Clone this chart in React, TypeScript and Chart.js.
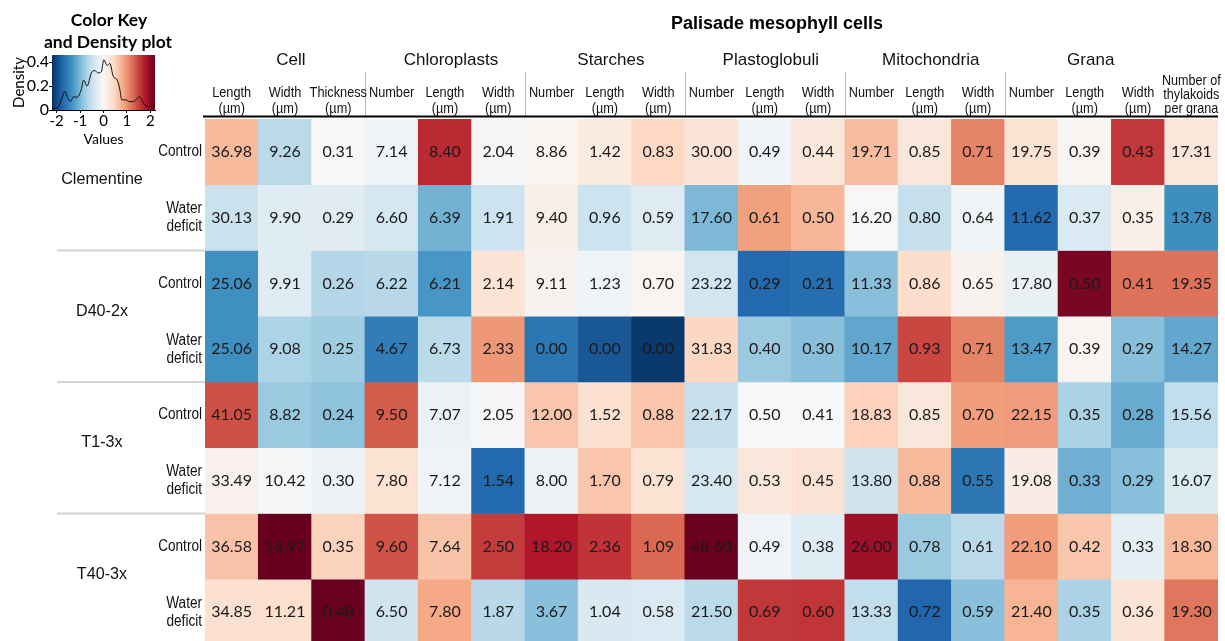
import React, { useEffect, useRef } from "react";
import { Chart, registerables } from "chart.js";

Chart.register(...registerables);

// ---------- DATA ----------
const columnKeys = [
  "Cell Length", "Cell Width", "Cell Thickness",
  "Chloroplasts Number", "Chloroplasts Length", "Chloroplasts Width",
  "Starches Number", "Starches Length", "Starches Width",
  "Plastoglobuli Number", "Plastoglobuli Length", "Plastoglobuli Width",
  "Mitochondria Number", "Mitochondria Length", "Mitochondria Width",
  "Grana Number", "Grana Length", "Grana Width", "Grana Thylakoids",
];

const subHeaders: string[][] = [
  ["Length", "(µm)"], ["Width", "(µm)"], ["Thickness", "(µm)"],
  ["Number"], ["Length", "(µm)"], ["Width", "(µm)"],
  ["Number"], ["Length", "(µm)"], ["Width", "(µm)"],
  ["Number"], ["Length", "(µm)"], ["Width", "(µm)"],
  ["Number"], ["Length", "(µm)"], ["Width", "(µm)"],
  ["Number"], ["Length", "(µm)"], ["Width", "(µm)"], ["Number of", "thylakoids", "per grana"],
];

const groupNames = ["Cell", "Chloroplasts", "Starches", "Plastoglobuli", "Mitochondria", "Grana"];
const groupStarts = [0, 3, 6, 9, 12, 15];
const groupLabelSpans = [3, 3, 3, 3, 3, 3];

const title = "Palisade mesophyll cells";
const genotypes = ["Clementine", "D40-2x", "T1-3x", "T40-3x"];
const treatments = [["Control"], ["Water", "deficit"]];

const clementineControl = [36.98, 9.26, 0.31, 7.14, 8.40, 2.04, 8.86, 1.42, 0.83, 30.00, 0.49, 0.44, 19.71, 0.85, 0.71, 19.75, 0.39, 0.43, 17.31];
const clementineWater = [30.13, 9.90, 0.29, 6.60, 6.39, 1.91, 9.40, 0.96, 0.59, 17.60, 0.61, 0.50, 16.20, 0.80, 0.64, 11.62, 0.37, 0.35, 13.78];
const d40Control = [25.06, 9.91, 0.26, 6.22, 6.21, 2.14, 9.11, 1.23, 0.70, 23.22, 0.29, 0.21, 11.33, 0.86, 0.65, 17.80, 0.50, 0.41, 19.35];
const d40Water = [25.06, 9.08, 0.25, 4.67, 6.73, 2.33, 0.00, 0.00, 0.00, 31.83, 0.40, 0.30, 10.17, 0.93, 0.71, 13.47, 0.39, 0.29, 14.27];
const t1Control = [41.05, 8.82, 0.24, 9.50, 7.07, 2.05, 12.00, 1.52, 0.88, 22.17, 0.50, 0.41, 18.83, 0.85, 0.70, 22.15, 0.35, 0.28, 15.56];
const t1Water = [33.49, 10.42, 0.30, 7.80, 7.12, 1.54, 8.00, 1.70, 0.79, 23.40, 0.53, 0.45, 13.80, 0.88, 0.55, 19.08, 0.33, 0.29, 16.07];
const t40Control = [36.58, 14.97, 0.35, 9.60, 7.64, 2.50, 18.20, 2.36, 1.09, 48.60, 0.49, 0.38, 26.00, 0.78, 0.61, 22.10, 0.42, 0.33, 18.30];
const t40Water = [34.85, 11.21, 0.48, 6.50, 7.80, 1.87, 3.67, 1.04, 0.58, 21.50, 0.69, 0.60, 13.33, 0.72, 0.59, 21.40, 0.35, 0.36, 19.30];

const rowValues = [clementineControl, clementineWater, d40Control, d40Water, t1Control, t1Water, t40Control, t40Water];

// density curve of the colour key
const densityX = [-2.2, -2.05, -1.9, -1.78, -1.64, -1.52, -1.42, -1.28, -1.13, -0.95, -0.85, -0.7, -0.52, -0.37, -0.23, -0.09, 0.01, 0.16, 0.27, 0.42, 0.59, 0.7, 0.78, 0.92, 1.13, 1.28, 1.54, 1.71, 1.93, 2.1, 2.2];
const densityY = [0.01, 0.015, 0.03, 0.1, 0.155, 0.1, 0.07, 0.11, 0.107, 0.17, 0.25, 0.2, 0.31, 0.33, 0.31, 0.32, 0.42, 0.37, 0.39, 0.28, 0.25, 0.17, 0.085, 0.085, 0.07, 0.07, 0.11, 0.056, 0.028, 0.03, 0.05];
const keyTicksX = [-2, -1, 0, 1, 2];
const keyTicksY = [0, 0.2, 0.4];
const keyMin = -2.2;
const keyMax = 2.2;

// ---------- COLOUR ----------
const RDBU = ["#053061", "#2166ac", "#4393c3", "#92c5de", "#d1e5f0", "#f7f7f7", "#fddbc7", "#f4a582", "#d6604d", "#b2182b", "#67001f"];

function hexToRgb(h: string) {
  const n = parseInt(h.slice(1), 16);
  return [(n >> 16) & 255, (n >> 8) & 255, n & 255];
}
function colorAt(t: number) {
  const tt = Math.max(0, Math.min(1, t)) * (RDBU.length - 1);
  const i = Math.min(RDBU.length - 2, Math.floor(tt));
  const f = tt - i;
  const a = hexToRgb(RDBU[i]);
  const b = hexToRgb(RDBU[i + 1]);
  const c = a.map((v, k) => Math.round(v + (b[k] - v) * f));
  return `rgb(${c[0]},${c[1]},${c[2]})`;
}

function columnZ(): number[][] {
  const nR = rowValues.length;
  const nC = columnKeys.length;
  const z = rowValues.map(() => new Array(nC).fill(0));
  for (let c = 0; c < nC; c++) {
    const col = rowValues.map((r) => r[c]);
    const m = col.reduce((s, v) => s + v, 0) / nR;
    const sd = Math.sqrt(col.reduce((s, v) => s + (v - m) * (v - m), 0) / (nR - 1));
    for (let r = 0; r < nR; r++) z[r][c] = sd > 0 ? (col[r] - m) / sd : 0;
  }
  return z;
}

const ARIAL = "'Liberation Sans', Arial, sans-serif";
const CAL = "Lato, 'Open Sans', sans-serif";

function txt(ctx: CanvasRenderingContext2D, s: string, x: number, y: number, font: string, sx = 1, align: CanvasTextAlign = "center", color = "#111") {
  ctx.save();
  ctx.font = font;
  ctx.fillStyle = color;
  ctx.textAlign = align;
  ctx.textBaseline = "middle";
  ctx.translate(x, y);
  ctx.scale(sx, 1);
  ctx.fillText(s, 0, 0);
  ctx.restore();
}

export default function App() {
  const mainRef = useRef<HTMLCanvasElement>(null);
  const keyRef = useRef<HTMLCanvasElement>(null);

  useEffect(() => {
    document.body.style.margin = "0";
    document.body.style.overflow = "hidden";
    const z = columnZ();

    const labelsPlugin = {
      id: "heatLabels",
      afterDraw(chart: any) {
        const ctx: CanvasRenderingContext2D = chart.ctx;
        const xs = chart.scales.x;
        const ys = chart.scales.y;
        const area = chart.chartArea;
        const colW = xs.getPixelForValue(1) - xs.getPixelForValue(0);
        const colLeft = (i: number) => xs.getPixelForValue(i) - colW / 2;

        // key titles
        txt(ctx, "Color Key", 109, 20, `bold 17.5px ${CAL}`, 1, "center", "#000");
        txt(ctx, "and Density plot", 108, 42, `bold 17.5px ${CAL}`, 1, "center", "#000");

        // main title
        txt(ctx, title, 777, 24, `bold 18px ${ARIAL}`, 1, "center", "#000");

        // group labels + separators
        groupNames.forEach((g, i) => {
          const l = colLeft(groupStarts[i]);
          const r = colLeft(groupStarts[i] + groupLabelSpans[i]);
          txt(ctx, g, (l + r) / 2 + 6, 60, `17px ${ARIAL}`, 1, "center", "#111");
          if (i > 0) {
            ctx.save();
            ctx.strokeStyle = "#b8b8b8";
            ctx.lineWidth = 1;
            ctx.beginPath();
            ctx.moveTo(Math.round(l) + 0.5, 72);
            ctx.lineTo(Math.round(l) + 0.5, 116);
            ctx.stroke();
            ctx.restore();
          }
        });

        // sub headers
        subHeaders.forEach((lines, c) => {
          const x = xs.getPixelForValue(c);
          if (lines.length === 3) {
            const ys3 = [81, 95, 109];
            lines.forEach((s, k) => txt(ctx, s, x, ys3[k], `14px ${ARIAL}`, 0.9, "center", "#111"));
          } else {
            const ys2 = [93, 109];
            lines.forEach((s, k) => txt(ctx, s, x, ys2[k], `15px ${ARIAL}`, 0.85, "center", "#111"));
          }
        });

        // header underline
        ctx.save();
        ctx.strokeStyle = "#000";
        ctx.lineWidth = 2;
        ctx.beginPath();
        ctx.moveTo(area.left - 2, 116.5);
        ctx.lineTo(area.right, 116.5);
        ctx.stroke();
        ctx.restore();

        // row labels
        rowValues.forEach((_, r) => {
          const cy = ys.getPixelForValue(r + 0.5);
          const t = treatments[r % 2];
          if (t.length === 1) {
            txt(ctx, t[0], area.left - 3, cy, `16px ${ARIAL}`, 0.85, "right", "#111");
          } else {
            txt(ctx, t[0], area.left - 3, cy - 9, `16px ${ARIAL}`, 0.85, "right", "#111");
            txt(ctx, t[1], area.left - 3, cy + 9, `16px ${ARIAL}`, 0.85, "right", "#111");
          }
        });

        // genotype labels + separators
        genotypes.forEach((g, i) => {
          const cy = ys.getPixelForValue(i * 2 + 1);
          txt(ctx, g, 102, cy - 5, `17px ${ARIAL}`, 0.95, "center", "#111");
          if (i > 0) {
            const y = ys.getPixelForValue(i * 2);
            ctx.save();
            ctx.strokeStyle = "#d4d4d4";
            ctx.lineWidth = 2;
            ctx.beginPath();
            ctx.moveTo(57, y);
            ctx.lineTo(area.left, y);
            ctx.stroke();
            ctx.restore();
          }
        });

        // cell values
        chart.data.datasets.forEach((_: any, r: number) => {
          const meta = chart.getDatasetMeta(r);
          meta.data.forEach((bar: any, c: number) => {
            const p = bar.getProps(["x", "y", "base"], true);
            const cy = (p.y + p.base) / 2;
            txt(ctx, rowValues[r][c].toFixed(2), p.x, cy, `16px ${CAL}`, 1, "center", "#1a1a1a");
          });
        });
      },
    };

    const main = new Chart(mainRef.current!, {
      type: "bar",
      data: {
        labels: columnKeys,
        datasets: rowValues.map((row, r) => ({
          label: `${genotypes[Math.floor(r / 2)]} ${treatments[r % 2].join(" ")}`,
          data: row.map(() => 1),
          backgroundColor: row.map((_, c) => colorAt((z[r][c] - keyMin) / (keyMax - keyMin))),
          borderWidth: 0,
          barPercentage: 1,
          categoryPercentage: 1,
          stack: "rows",
        })),
      },
      options: {
        animation: false,
        responsive: false,
        maintainAspectRatio: false,
        events: [],
        layout: { padding: { left: 205, right: 7, top: 119, bottom: 0 } },
        plugins: { legend: { display: false }, tooltip: { enabled: false } },
        scales: {
          x: { display: false, stacked: true },
          y: { display: false, stacked: true, min: 0, max: 8, reverse: true },
        },
      },
      plugins: [labelsPlugin],
    });

    const gradientPlugin = {
      id: "keyGradient",
      beforeDatasetsDraw(chart: any) {
        const ctx: CanvasRenderingContext2D = chart.ctx;
        const a = chart.chartArea;
        const xs = chart.scales.x;
        const g = ctx.createLinearGradient(xs.getPixelForValue(keyMin), 0, xs.getPixelForValue(keyMax), 0);
        RDBU.forEach((c, i) => g.addColorStop(i / (RDBU.length - 1), c));
        ctx.save();
        ctx.fillStyle = g;
        ctx.fillRect(a.left, a.top, a.right - a.left, a.bottom - a.top);
        ctx.restore();
      },
    };

    const key = new Chart(keyRef.current!, {
      type: "line",
      data: {
        datasets: [
          {
            data: densityX.map((x, i) => ({ x, y: densityY[i] })),
            borderColor: "#111",
            borderWidth: 1,
            pointRadius: 0,
            fill: false,
            cubicInterpolationMode: "monotone",
          },
        ],
      },
      options: {
        animation: false,
        responsive: false,
        maintainAspectRatio: false,
        events: [],
        layout: { padding: { left: 0, right: 20, top: 55, bottom: 0 } },
        plugins: { legend: { display: false }, tooltip: { enabled: false } },
        scales: {
          x: {
            type: "linear",
            min: keyMin,
            max: keyMax,
            afterBuildTicks: (s: any) => {
              s.ticks = keyTicksX.map((v) => ({ value: v }));
            },
            ticks: { font: { family: CAL, size: 15, lineHeight: 1.0 }, color: "#000", padding: 1, maxRotation: 0 },
            title: { display: true, text: "Values", font: { family: CAL, size: 14, lineHeight: 1.0 }, color: "#000", padding: 0 },
            grid: { display: true, drawOnChartArea: false, tickLength: 3, color: "#000" },
            border: { color: "#000" },
            afterFit: (s: any) => {
              s.height = 36;
            },
          },
          y: {
            type: "linear",
            min: 0,
            max: 0.46,
            afterBuildTicks: (s: any) => {
              s.ticks = keyTicksY.map((v) => ({ value: v }));
            },
            ticks: { font: { family: CAL, size: 16 }, color: "#000", padding: 0, callback: (v: any) => String(v) },
            title: { display: true, text: "Density", font: { family: CAL, size: 15 }, color: "#000", padding: { top: 10, bottom: 0 } },
            grid: { display: true, drawOnChartArea: false, tickLength: 3, color: "#000" },
            border: { color: "#000" },
            afterFit: (s: any) => {
              s.width = 52;
            },
          },
        },
      },
      plugins: [gradientPlugin],
    });

    return () => {
      main.destroy();
      key.destroy();
    };
  }, []);

  return (
    <div style={{ position: "relative", width: 1225, height: 641, overflow: "hidden", background: "#fff" }}>
      <canvas ref={mainRef} width={1225} height={645} style={{ position: "absolute", left: 0, top: 0 }} />
      <canvas ref={keyRef} width={175} height={146} style={{ position: "absolute", left: 0, top: 0 }} />
    </div>
  );
}
